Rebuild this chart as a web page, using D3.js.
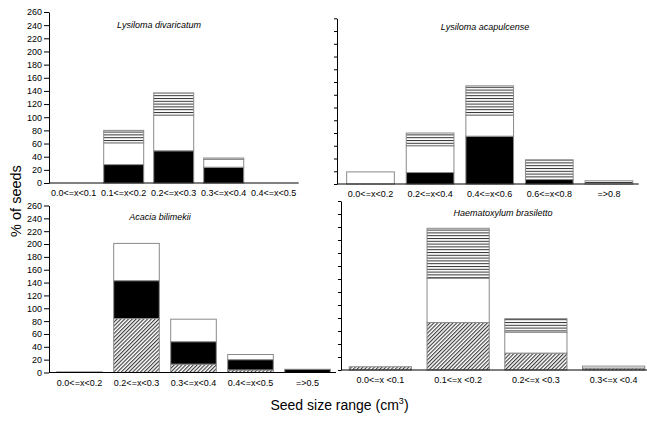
<!DOCTYPE html>
<html>
<head>
<meta charset="utf-8">
<script src="https://cdn.jsdelivr.net/npm/d3@7"></script>
<style>
  body { margin: 0; background: #fff; }
  text { font-family: "Liberation Sans", Arial, sans-serif; }
</style>
</head>
<body>
<div class="chart"></div>
<script>
// stack order (bottom to top)
var keys = ["hatched", "black", "white", "striped"];
var yTickValues = [0, 20, 40, 60, 80, 100, 120, 140, 160, 180, 200, 220, 240, 260];

// Lysiloma divaricatum
var divCats = ["0.0<=x<0.1", "0.1<=x<0.2", "0.2<=x<0.3", "0.3<=x<0.4", "0.4<=x<0.5"];
var divHatched = [0, 0, 0, 0, 0];
var divBlack = [0, 28, 49, 24, 0];
var divWhite = [0, 33, 54, 12, 0];
var divStriped = [0, 19, 34, 2, 0];

// Lysiloma acapulcense
var acaCats = ["0.0<=x<0.2", "0.2<=x<0.4", "0.4<=x<0.6", "0.6<=x<0.8", "=>0.8"];
var acaHatched = [0, 0, 0, 0, 0];
var acaBlack = [0, 18, 75, 7, 0];
var acaWhite = [19, 42, 33, 0, 0];
var acaStriped = [0, 20, 46, 31, 5];

// Acacia bilimekii
var bilCats = ["0.0<=x<0.2", "0.2<=x<0.3", "0.3<=x<0.4", "0.4<=x<0.5", "=>0.5"];
var bilHatched = [1, 84, 13, 4, 0];
var bilBlack = [0, 59, 35, 16, 5];
var bilWhite = [0, 58, 35, 8, 0];
var bilStriped = [0, 0, 0, 0, 0];

// Haematoxylum brasiletto
var braCats = ["0.0<=x <0.1", "0.1<=x <0.2", "0.2<=x <0.3", "0.3<=x <0.4"];
var braHatched = [5, 73, 26, 3];
var braBlack = [0, 0, 0, 0];
var braWhite = [0, 68, 32, 3];
var braStriped = [0, 77, 21, 0];

var svg = d3.select(".chart")
  .append("svg")
  .attr("width", 647)
  .attr("height", 426);

var defs = svg.append("defs");

var hatch = defs.append("pattern")
  .attr("id", "hatch")
  .attr("patternUnits", "userSpaceOnUse")
  .attr("width", 2.7)
  .attr("height", 2.7)
  .attr("patternTransform", "rotate(45)");
hatch.append("rect").attr("width", 2.7).attr("height", 2.7).attr("fill", "#fff");
hatch.append("line")
  .attr("x1", 0.6).attr("y1", 0).attr("x2", 0.6).attr("y2", 2.7)
  .attr("stroke", "#222").attr("stroke-width", 1);

var stripes = defs.append("pattern")
  .attr("id", "stripes")
  .attr("patternUnits", "userSpaceOnUse")
  .attr("width", 6)
  .attr("height", 2.8);
stripes.append("rect").attr("width", 6).attr("height", 2.8).attr("fill", "#fff");
stripes.append("line")
  .attr("x1", 0).attr("y1", 0.5).attr("x2", 6).attr("y2", 0.5)
  .attr("stroke", "#333").attr("stroke-width", 1);

var fills = { hatched: "url(#hatch)", black: "#000", white: "#fff", striped: "url(#stripes)" };

function rows(cats, h, b, w, s) {
  return cats.map(function(c, i) {
    return { cat: c, hatched: h[i], black: b[i], white: w[i], striped: s[i] };
  });
}

var panels = [
  { title: "Lysiloma divaricatum", data: rows(divCats, divHatched, divBlack, divWhite, divStriped),
    axisX: 49, xr: [48.7, 298.7], yr: [183, 12], labels: true, tick: 5, titleX: 159, titleY: 25 },
  { title: "Lysiloma acapulcense", data: rows(acaCats, acaHatched, acaBlack, acaWhite, acaStriped),
    axisX: 337, xr: [340.7, 638.7], yr: [184, 18.3], labels: false, tick: 3, titleX: 485, titleY: 27 },
  { title: "Acacia bilimekii", data: rows(bilCats, bilHatched, bilBlack, bilWhite, bilStriped),
    axisX: 49, xr: [51, 336], yr: [372.5, 205.5], labels: true, tick: 5, titleX: 160, titleY: 217 },
  { title: "Haematoxylum brasiletto", data: rows(braCats, braHatched, braBlack, braWhite, braStriped),
    axisX: 341, xr: [341.5, 652.5], yr: [370, 201], labels: false, tick: 3, titleX: 503, titleY: 213 }
];

var stack = d3.stack().keys(keys);

panels.forEach(function(p) {
  var g = svg.append("g");

  var x = d3.scaleBand()
    .domain(p.data.map(function(d) { return d.cat; }))
    .range(p.xr)
    .paddingInner(0.2)
    .paddingOuter(0.1);

  var y = d3.scaleLinear().domain([0, 260]).range(p.yr);

  var layers = stack(p.data);

  g.selectAll(".layer")
    .data(layers)
    .enter().append("g")
    .attr("class", "layer")
    .attr("fill", function(d) { return fills[d.key]; })
    .selectAll("rect")
    .data(function(d) { return d.filter(function(v) { return v[1] - v[0] > 0; }); })
    .enter().append("rect")
      .attr("x", function(d) { return x(d.data.cat); })
      .attr("y", function(d) { return y(d[1]); })
      .attr("width", x.bandwidth())
      .attr("height", function(d) { return y(d[0]) - y(d[1]); })
      .attr("stroke", "#8a8a8a")
      .attr("stroke-width", 1);

  // x axis
  var bottomAxis = d3.axisBottom(x).tickSize(0).tickSizeOuter(0).tickPadding(7);
  var xg = g.append("g")
    .attr("transform", "translate(0," + p.yr[0] + ")")
    .call(bottomAxis);
  xg.select(".domain").attr("d", "M" + p.axisX + ",0H" + p.xr[1]);
  xg.selectAll("text").attr("font-size", 9).attr("fill", "#000");

  // y axis
  var leftAxis = d3.axisLeft(y)
    .tickValues(yTickValues)
    .tickSize(p.tick)
    .tickSizeOuter(0)
    .tickPadding(2);
  if (!p.labels) leftAxis.tickFormat("");
  g.append("g")
    .attr("transform", "translate(" + p.axisX + ",0)")
    .call(leftAxis)
    .selectAll("text")
      .attr("font-size", 9)
      .attr("fill", "#000");

  g.append("text")
    .attr("x", p.titleX)
    .attr("y", p.titleY)
    .attr("dy", "0.35em")
    .attr("text-anchor", "middle")
    .attr("font-size", 9)
    .attr("font-style", "italic")
    .text(p.title);
});

// axis titles
svg.append("text")
  .attr("transform", "translate(16,201) rotate(-90)")
  .attr("dy", "0.35em")
  .attr("text-anchor", "middle")
  .attr("font-size", 14.5)
  .text("% of seeds");

var xt = svg.append("text")
  .attr("x", 339.5)
  .attr("y", 410)
  .attr("text-anchor", "middle")
  .attr("font-size", 14)
  .text("Seed size range (cm");
xt.append("tspan").attr("font-size", 9).attr("dy", -6).text("3");
xt.append("tspan").attr("dy", 6).text(")");
</script>
</body>
</html>
